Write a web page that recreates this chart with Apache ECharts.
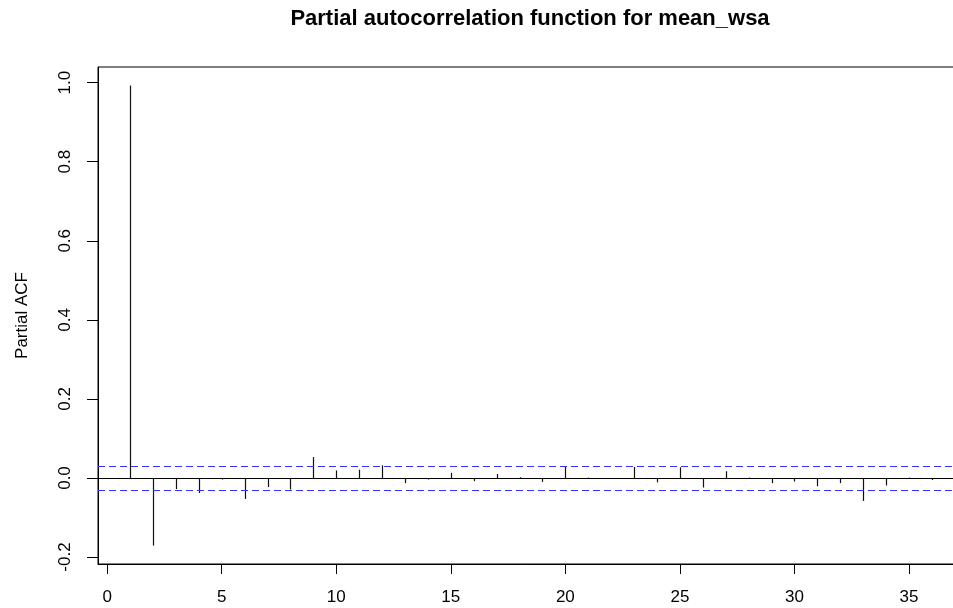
<!DOCTYPE html>
<html>
<head>
<meta charset="utf-8">
<script src="https://cdn.jsdelivr.net/npm/echarts@6/dist/echarts.min.js"></script>
<style>
  html, body { margin: 0; padding: 0; background: #ffffff; }
  #chart { width: 953px; height: 608px; }
</style>
</head>
<body>
<div id="chart"></div>
<script>
// Partial autocorrelation of mean_wsa, lags 1..36
const lags = [1, 2, 3, 4, 5, 6, 7, 8, 9, 10, 11, 12, 13, 14, 15, 16, 17, 18,
              19, 20, 21, 22, 23, 24, 25, 26, 27, 28, 29, 30, 31, 32, 33, 34, 35, 36];
const pacfValues = [0.993, -0.171, -0.028, -0.038, -0.004, -0.053, -0.023, -0.029, 0.053,
                    0.019, 0.021, 0.032, -0.013, -0.004, 0.013, -0.008, 0.010, 0.002,
                    -0.010, 0.028, 0.001, -0.001, 0.028, -0.011, 0.027, -0.024, 0.017,
                    0.001, -0.013, -0.009, -0.021, -0.013, -0.058, -0.019, 0.001, -0.005];
// 95% significance bound (±1.96/sqrt(n))
const clim = 0.0287;
const xTicks = [0, 5, 10, 15, 20, 25, 30, 35];
const yTicks = [-0.2, 0.0, 0.2, 0.4, 0.6, 0.8, 1.0];

// axis limits: data range padded by 4% on each side
const xLo = Math.min(...lags), xHi = Math.max(...lags);
const xPad = 0.04 * (xHi - xLo);
const yLo = Math.min(-clim, ...pacfValues), yHi = Math.max(clim, ...pacfValues);
const yPad = 0.04 * (yHi - yLo);

const FONT = '"Liberation Sans", Arial, Helvetica, sans-serif';
const chart = echarts.init(document.getElementById('chart'), null, { renderer: 'canvas' });

chart.setOption({
  animation: false,
  backgroundColor: '#ffffff',
  title: {
    text: 'Partial autocorrelation function for mean_wsa',
    left: 525, top: 3, textAlign: 'center',
    textStyle: { fontFamily: FONT, fontSize: 22, fontWeight: 'bold', color: '#000' }
  },
  grid: {
    left: 98, top: 67, width: 866, height: 497,
    outerBoundsMode: 'none', containLabel: false,
    show: true, borderColor: '#000', borderWidth: 1, backgroundColor: 'transparent'
  },
  xAxis: {
    type: 'value',
    min: xLo - xPad, max: xHi + xPad,
    splitLine: { show: false },
    axisLine: { show: true, onZero: false, lineStyle: { color: '#000', width: 1 } },
    axisTick: { show: true, length: 10, lineStyle: { color: '#000' }, customValues: xTicks },
    axisLabel: {
      customValues: xTicks, margin: 25,
      fontFamily: FONT, fontSize: 17, color: '#000',
      formatter: v => String(v)
    }
  },
  yAxis: {
    type: 'value',
    min: yLo - yPad, max: yHi + yPad,
    name: 'Partial ACF', nameLocation: 'middle', nameGap: 67, nameRotate: 90,
    nameTextStyle: { fontFamily: FONT, fontSize: 17, color: '#000' },
    splitLine: { show: false },
    axisLine: { show: true, onZero: false, lineStyle: { color: '#000', width: 1 } },
    axisTick: { show: true, length: 11, lineStyle: { color: '#000' }, customValues: yTicks },
    axisLabel: {
      customValues: yTicks, rotate: 90, margin: 24,
      fontFamily: FONT, fontSize: 17, color: '#000',
      formatter: v => v.toFixed(1)
    }
  },
  series: [{
    type: 'custom',
    data: lags.map((l, i) => [l, pacfValues[i]]),
    renderItem: (params, api) => {
      const base = api.coord([api.value(0), 0]);
      const tip = api.coord([api.value(0), api.value(1)]);
      const x = Math.round(base[0]) + 0.5;
      return {
        type: 'line',
        shape: { x1: x, y1: base[1], x2: x, y2: tip[1] },
        style: { stroke: '#111', lineWidth: 1.2 }
      };
    },
    markLine: {
      silent: true, symbol: 'none', label: { show: false },
      data: [
        { yAxis: 0, lineStyle: { color: '#000', type: 'solid', width: 1 } },
        { yAxis: clim, lineStyle: { color: '#3030ff', type: [7, 4], width: 1.2 } },
        { yAxis: -clim, lineStyle: { color: '#3030ff', type: [7, 4], width: 1.2 } }
      ]
    }
  }]
});
</script>
</body>
</html>
